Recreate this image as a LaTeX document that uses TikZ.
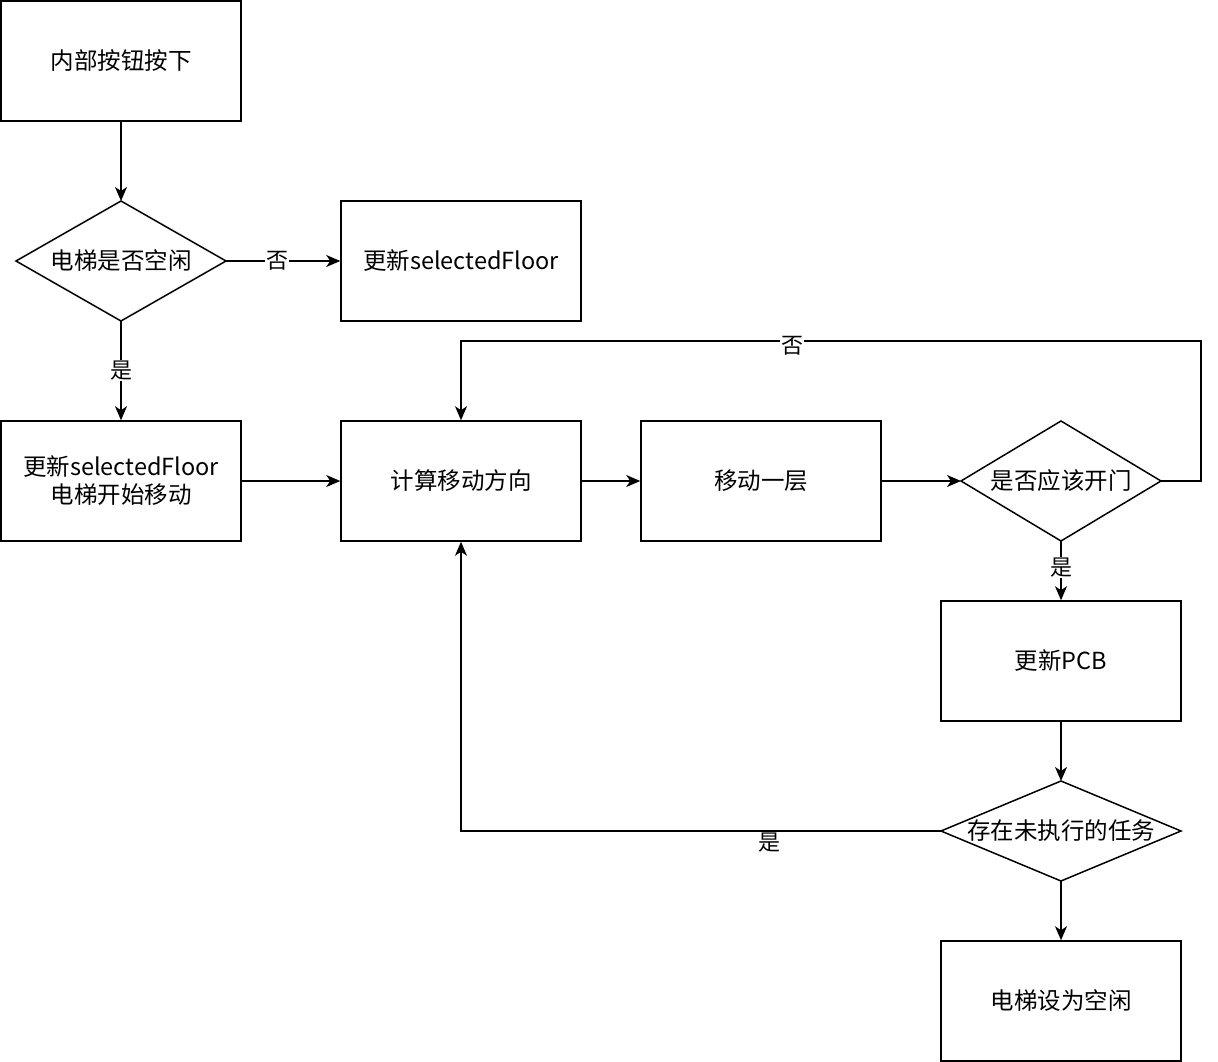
\documentclass[tikz,border=0pt]{standalone}
\usepackage{fontspec}
\setmainfont{Noto Sans CJK SC}
\usetikzlibrary{arrows.meta}
\begin{document}
\begin{tikzpicture}[x=1pt,y=-1pt,
  box/.style={draw,line width=1.5pt,minimum width=240pt,minimum height=120pt,inner sep=0pt,font=\fontsize{23.5}{28}\selectfont,align=center},
  txt/.style={font=\fontsize{23.5}{28}\selectfont,inner sep=0pt},
  shp/.style={line width=1.5pt},
  arr/.style={line width=1.5pt,-{Stealth[length=14pt,width=12pt,inset=4pt]}},
  lbl/.style={fill=white,inner sep=1pt,font=\fontsize{22}{24}\selectfont}]
\useasboundingbox (0,0) rectangle (1218,1062);
\node[box] (a) at (121,61) {内部按钮按下};
\draw[shp] (16,261) -- (121,201) -- (226,261) -- (121,321) -- cycle;
\node[txt] (d1) at (121,261) {电梯是否空闲};
\coordinate (d1n) at (121,201);
\coordinate (d1e) at (226,261);
\coordinate (d1s) at (121,321);
\node[box] (b) at (461,261) {更新selectedFloor};
\node[box] (c) at (121,481) {更新selectedFloor\\电梯开始移动};
\node[box] (e) at (461,481) {计算移动方向};
\node[box] (f) at (761,481) {移动一层};
\coordinate (d2w) at (961,481);
\coordinate (d2e) at (1161,481);
\coordinate (d2s) at (1061,541);
\draw[shp] (961,481) -- (1061,421) -- (1161,481) -- (1061,541) -- cycle;
\node[txt] (d2) at (1061,481) {是否应该开门};
\node[box] (g) at (1061,661) {更新PCB};
\coordinate (d3n) at (1061,781);
\coordinate (d3w) at (941,831);
\coordinate (d3s) at (1061,881);
\draw[shp] (941,831) -- (1061,781) -- (1181,831) -- (1061,881) -- cycle;
\node[txt] (d3) at (1061,831) {存在未执行的任务};
\node[box] (h) at (1061,1001) {电梯设为空闲};
\draw[arr] (a) -- (d1n);
\draw[arr] (d1e) -- node[lbl,pos=0.45] {否} (b);
\draw[arr] (d1s) -- node[lbl] {是} (c);
\draw[arr] (c) -- (e);
\draw[arr] (e) -- (f);
\draw[arr] (f) -- (d2w);
\draw[arr] (d2e) -- (1201,481) -- (1201,341) -- (e.north |- 0,341) -- (e.north);
\node[lbl] at (792,346) {否};
\draw[arr] (d2s) -- node[lbl,pos=0.45] {是} (g);
\draw[arr] (g) -- (d3n);
\draw[arr] (d3w) -- (e.south |- 0,831) -- (e.south);
\node[lbl] at (769,843) {是};
\draw[arr] (d3s) -- (h);
\end{tikzpicture}
\end{document}
